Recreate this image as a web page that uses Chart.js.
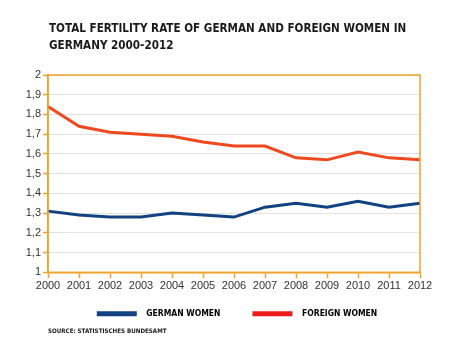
<!DOCTYPE html>
<html lang="en">
<head>
    <meta charset="UTF-8">
    <title>Total fertility rate</title>
    <script src="https://cdn.jsdelivr.net/npm/chart.js"></script>
    <style>
        body {
            margin: 0;
            background: #fff;
            font-family: 'Liberation Sans', Arial, sans-serif;
        }
        #wrap {
            position: relative;
            width: 474px;
            height: 345px;
        }
        #title {
            position: absolute;
            left: 49px;
            top: 20px;
            font-family: 'DejaVu Sans Condensed', 'DejaVu Sans', sans-serif;
            font-weight: bold;
            font-size: 11.6px;
            line-height: 17px;
            color: #1a1a1a;
        }
        #source {
            position: absolute;
            left: 48px;
            top: 327px;
            font-family: 'DejaVu Sans Condensed', 'DejaVu Sans', sans-serif;
            font-weight: bold;
            font-size: 6.2px;
            color: #1a1a1a;
        }
        canvas {
            position: absolute;
            left: 0;
            top: 0;
        }
    </style>
</head>
<body>
    <div id="wrap">
        <canvas id="tfrChart" width="474" height="345"></canvas>
        <div id="title">TOTAL FERTILITY RATE OF GERMAN AND FOREIGN WOMEN IN<br>GERMANY 2000-2012</div>
        <div id="source">SOURCE: STATISTISCHES BUNDESAMT</div>
    </div>

    <script>
        const years = ['2000', '2001', '2002', '2003', '2004', '2005', '2006',
                       '2007', '2008', '2009', '2010', '2011', '2012'];
        const germanWomen = [1.31, 1.29, 1.28, 1.28, 1.30, 1.29, 1.28, 1.33, 1.35, 1.33, 1.36, 1.33, 1.35];
        const foreignWomen = [1.84, 1.74, 1.71, 1.70, 1.69, 1.66, 1.64, 1.64, 1.58, 1.57, 1.61, 1.58, 1.57];

        const orange = '#f2a12a';

        // orange frame round the plot area
        const frame = {
            id: 'frame',
            afterDraw(chart) {
                const a = chart.chartArea;
                const ctx = chart.ctx;
                ctx.save();
                ctx.strokeStyle = orange;
                ctx.lineWidth = 1.5;
                ctx.strokeRect(a.left, a.top, a.right - a.left, a.bottom - a.top);
                ctx.restore();
            }
        };

        new Chart(document.getElementById('tfrChart'), {
            type: 'line',
            data: {
                labels: years,
                datasets: [{
                    label: 'GERMAN WOMEN',
                    data: germanWomen,
                    borderColor: '#12427f',
                    backgroundColor: '#12427f',
                    borderWidth: 3,
                    pointRadius: 0
                }, {
                    label: 'FOREIGN WOMEN',
                    data: foreignWomen,
                    borderColor: '#ef4a1f',
                    backgroundColor: '#ec1c1c',
                    borderWidth: 3,
                    pointRadius: 0
                }]
            },
            options: {
                responsive: false,
                animation: false,
                layout: {
                    padding: { top: 75, right: 0, bottom: 17, left: 0 }
                },
                plugins: {
                    legend: {
                        position: 'bottom',
                        labels: {
                            boxWidth: 40,
                            boxHeight: 5,
                            padding: 16,
                            useBorderRadius: true,
                            borderRadius: 2.5,
                            color: '#1a1a1a',
                            font: { family: 'DejaVu Sans Condensed', size: 8.5, weight: 'bold' },
                            generateLabels(chart) {
                                return chart.data.datasets.map((ds, i) => ({
                                    // extra spaces widen the gaps like the original legend
                                    text: '  ' + ds.label + (i === 0 ? '      ' : ''),
                                    fillStyle: ds.backgroundColor,
                                    strokeStyle: ds.backgroundColor,
                                    lineWidth: 0,
                                    datasetIndex: i
                                }));
                            }
                        }
                    },
                    tooltip: { enabled: false }
                },
                scales: {
                    x: {
                        offset: false,
                        grid: {
                            drawOnChartArea: false,
                            drawTicks: true,
                            tickLength: 6,
                            tickColor: orange,
                            tickWidth: 1.5
                        },
                        border: { color: orange, width: 1.5 },
                        ticks: {
                            color: '#333',
                            padding: 1,
                            maxRotation: 0,
                            font: { family: 'Liberation Sans', size: 11 }
                        }
                    },
                    y: {
                        min: 1,
                        max: 2,
                        afterFit(axis) { axis.width = 48; },
                        grid: {
                            color: '#e2e2e2',
                            lineWidth: 1,
                            drawTicks: true,
                            tickLength: 5,
                            tickColor: orange,
                            tickWidth: 1.5
                        },
                        border: { color: orange, width: 1.5 },
                        ticks: {
                            stepSize: 0.1,
                            color: '#333',
                            padding: 2,
                            font: { family: 'Liberation Sans', size: 11 },
                            callback: v => String(Math.round(v * 10) / 10).replace('.', ',')
                        }
                    },
                    // empty right-hand axis: keeps the right margin, legend stays centred on the page
                    yRight: {
                        position: 'right',
                        min: 1,
                        max: 2,
                        afterFit(axis) { axis.width = 54; },
                        grid: { display: false },
                        border: { display: false },
                        ticks: { display: false }
                    }
                }
            },
            plugins: [frame]
        });
    </script>
</body>
</html>
